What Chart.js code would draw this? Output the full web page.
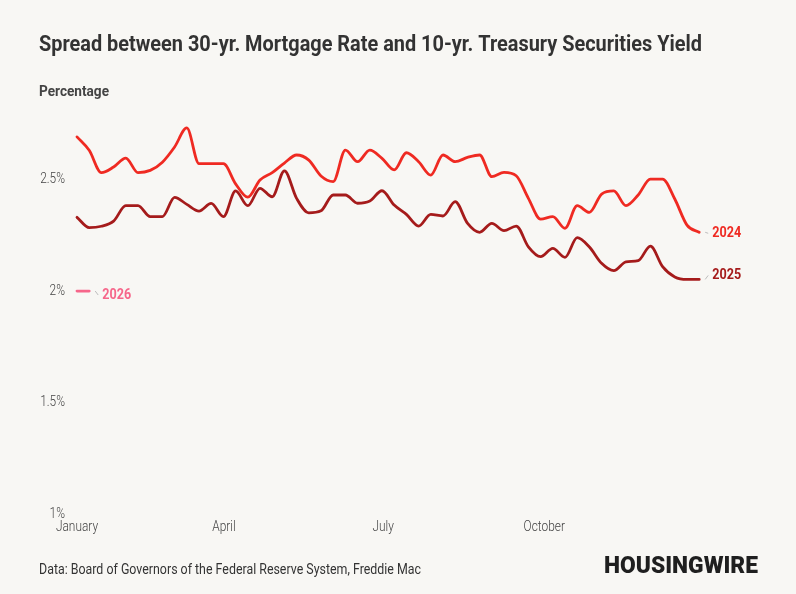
<!DOCTYPE html>
<html>
<head>
    <title>Mortgage spread</title>
    <script src="https://cdn.jsdelivr.net/npm/chart.js"></script>
    <style>
        html, body {
            margin: 0;
            padding: 0;
            background: #f8f7f4;
        }
        #wrap {
            position: relative;
            width: 796px;
            height: 594px;
        }
    </style>
</head>
<body>
    <div id="wrap">
        <canvas id="myChart" width="796" height="594"></canvas>
    </div>

    <script>
        // weekly spread, in percent (week index 0..51)
        const spread2024 = [2.69, 2.63, 2.53, 2.555, 2.595, 2.53, 2.54, 2.577, 2.645, 2.73,
            2.57, 2.57, 2.57, 2.48, 2.42, 2.497, 2.53, 2.573, 2.609, 2.586,
            2.515, 2.49, 2.631, 2.579, 2.631, 2.594, 2.542, 2.619, 2.579, 2.519,
            2.609, 2.579, 2.598, 2.609, 2.512, 2.531, 2.516, 2.415, 2.322, 2.333,
            2.281, 2.382, 2.352, 2.434, 2.448, 2.382, 2.43, 2.501, 2.501, 2.412,
            2.295, 2.263];
        const spread2025 = [2.33, 2.284, 2.29, 2.313, 2.382, 2.382, 2.333, 2.333, 2.419, 2.388,
            2.358, 2.392, 2.333, 2.448, 2.382, 2.46, 2.422, 2.538, 2.415, 2.35,
            2.359, 2.43, 2.43, 2.393, 2.403, 2.449, 2.385, 2.343, 2.291, 2.343,
            2.336, 2.4, 2.304, 2.263, 2.303, 2.27, 2.291, 2.198, 2.154, 2.191,
            2.151, 2.239, 2.197, 2.124, 2.091, 2.131, 2.136, 2.201, 2.109, 2.063,
            2.052, 2.052];
        const spread2026 = [2.0, 2.0];

        const seriesNames = ['2024', '2025', '2026'];
        const seriesColors = ['#ef2a22', '#a51b1b', '#f6668a'];
        const labelShift = [1, -4, 4]; // px nudge of end labels

        const yTicks = [2.5, 2, 1.5, 1];
        const yTickLabels = ['2.5%', '2%', '1.5%', '1%'];
        const xTickIdx = [0, 12.05, 25.1, 38.3];
        const xTickLabels = ['January', 'April', 'July', 'October'];

        const toPoints = arr => arr.map((v, i) => ({ x: i, y: v }));

        // draw text squeezed horizontally (stands in for a condensed face)
        function squeezeText(ctx, text, x, y, font, color, align, opts) {
            ctx.save();
            ctx.font = font;
            ctx.fillStyle = color;
            ctx.textBaseline = 'middle';
            ctx.textAlign = 'left';
            const w = ctx.measureText(text).width;
            let sx = opts.scale || 0.85;
            if (opts.width) sx = opts.width / w;
            let left = x;
            if (align === 'right') left = x - w * sx;
            if (align === 'center') left = x - w * sx / 2;
            ctx.translate(left, y);
            ctx.scale(sx, 1);
            ctx.fillText(text, 0, 0);
            ctx.restore();
        }

        const decorPlugin = {
            id: 'decor',
            beforeDraw(chart) {
                const ctx = chart.ctx;
                ctx.save();
                ctx.fillStyle = '#f8f7f4';
                ctx.fillRect(0, 0, chart.width, chart.height);
                ctx.restore();

                const xs = chart.scales.x, ys = chart.scales.y;

                squeezeText(ctx, 'Spread between 30-yr. Mortgage Rate and 10-yr. Treasury Securities Yield',
                    39, 45, 'bold 22px Roboto', '#333333', 'left', { width: 663 });
                squeezeText(ctx, 'Percentage', 39, 92, 'bold 14px Roboto', '#444444', 'left', { width: 70 });

                yTicks.forEach((v, i) => {
                    squeezeText(ctx, yTickLabels[i], 65, ys.getPixelForValue(v),
                        '300 14.5px Roboto', '#444444', 'right', { scale: 0.82 });
                });
                xTickIdx.forEach((v, i) => {
                    squeezeText(ctx, xTickLabels[i], xs.getPixelForValue(v), 527,
                        '300 14.5px Roboto', '#444444', 'center', { scale: 0.82 });
                });

                squeezeText(ctx, 'Data: Board of Governors of the Federal Reserve System, Freddie Mac',
                    39, 570, '14px Roboto', '#333333', 'left', { width: 382 });
                squeezeText(ctx, 'HOUSINGWIRE', 604, 567, '900 23px Roboto', '#1f1f1f', 'left', { width: 154 });
            },
            afterDatasetsDraw(chart) {
                const ctx = chart.ctx;
                chart.data.datasets.forEach((ds, i) => {
                    const meta = chart.getDatasetMeta(i);
                    const last = meta.data[meta.data.length - 1];
                    const lx = last.x + 13;
                    const ly = last.y + labelShift[i];
                    ctx.save();
                    ctx.strokeStyle = '#bdbdbd';
                    ctx.lineWidth = 1;
                    ctx.beginPath();
                    ctx.moveTo(last.x + 6, last.y);
                    ctx.lineTo(lx - 4, ly);
                    ctx.stroke();
                    ctx.restore();
                    squeezeText(ctx, seriesNames[i], lx, ly, 'bold 15px Roboto', seriesColors[i], 'left', { scale: 0.84 });
                });
            }
        };

        const datasets = [spread2024, spread2025, spread2026].map((arr, i) => ({
            label: seriesNames[i],
            data: toPoints(arr),
            borderColor: seriesColors[i],
            backgroundColor: seriesColors[i],
            borderWidth: 2.8,
            pointRadius: 0,
            cubicInterpolationMode: 'monotone',
            borderCapStyle: 'round',
            borderJoinStyle: 'round',
            clip: false,
            fill: false
        }));

        const ctx = document.getElementById('myChart').getContext('2d');
        new Chart(ctx, {
            type: 'line',
            data: { datasets: datasets },
            options: {
                responsive: false,
                animation: false,
                layout: {
                    padding: { left: 77, right: 96.8, top: 123.5, bottom: 79.6 }
                },
                plugins: {
                    legend: { display: false },
                    tooltip: { enabled: false }
                },
                scales: {
                    x: { type: 'linear', min: 0, max: 51, display: false },
                    y: { type: 'linear', min: 1, max: 2.75, display: false }
                }
            },
            plugins: [decorPlugin]
        });
    </script>
</body>
</html>
